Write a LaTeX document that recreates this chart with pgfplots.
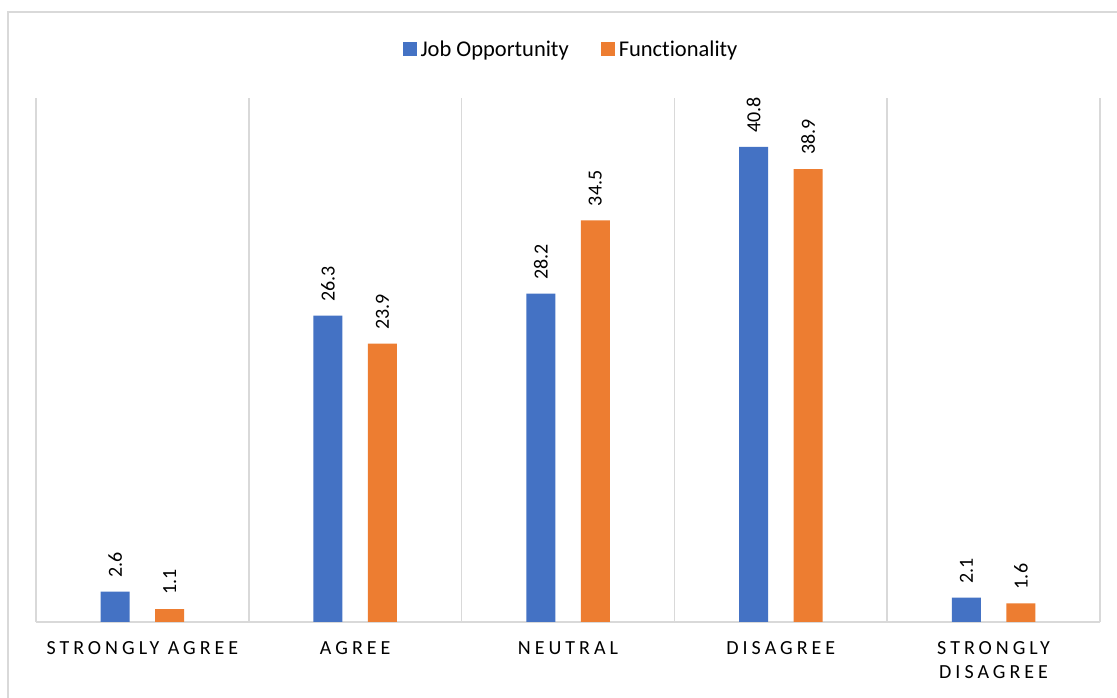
\documentclass[border=0pt]{standalone}
\usepackage{pgfplots}
\pgfplotsset{compat=1.18}
\usepackage{fontspec}
\setmainfont{Carlito}[Ligatures={NoCommon}]
\newfontfamily\catfont{Carlito}[LetterSpace=20, Ligatures={NoCommon}]

\definecolor{jobblue}{HTML}{4472C4}
\definecolor{funcorange}{HTML}{ED7D31}
\definecolor{gridgray}{HTML}{D9D9D9}

\begin{document}
\begin{tikzpicture}
  % page area and outer chart frame
  \useasboundingbox (0pt,0pt) rectangle (1117pt,698pt);
  \clip (0pt,0pt) rectangle (1117pt,698pt);
  \fill[white] (0pt,0pt) rectangle (1117pt,698pt);
  \draw[gridgray, line width=1.6pt] (8pt,686pt) rectangle (1140pt,-20pt);

  \begin{axis}[
    at={(36pt,76pt)}, anchor=south west,
    scale only axis,
    width=1064pt, height=524pt,
    xmin=-0.5, xmax=4.5,
    ymin=0, ymax=45,
    ybar=25.5pt, bar width=29pt,
    axis y line=none,
    axis x line*=bottom,
    axis line style={draw=gridgray, line width=1.6pt, -},
    xtick={0,1,2,3,4},
    xticklabels={STRONGLY AGREE, AGREE, NEUTRAL, DISAGREE, {STRONGLY\\DISAGREE}},
    major tick length=0pt,
    minor xtick={-0.5,0.5,1.5,2.5,3.5,4.5},
    minor tick length=0pt,
    minor x grid style={draw=gridgray, line width=1.6pt},
    xminorgrids=true,
    xticklabel style={font=\catfont\fontsize{20}{24}\selectfont, align=center,
      anchor=north, yshift=-16pt},
    ytick=\empty,
    clip=false,
    nodes near coords,
    nodes near coords style={font=\fontsize{20}{24}\selectfont, rotate=90,
      anchor=west, inner xsep=14pt, inner ysep=0pt,
      /pgf/number format/fixed, /pgf/number format/precision=1,
      /pgf/number format/fixed zerofill, /pgf/number format/assume math mode=true},
    legend columns=2,
    legend style={draw=none, fill=none, at={(axis description cs:0.5,1)},
      anchor=center, xshift=4pt, yshift=49pt,
      font=\fontsize{22.5}{26}\selectfont,
      nodes={inner xsep=4pt},
      /tikz/every even column/.append style={column sep=28pt}},
    legend image code/.code={\fill[#1, draw=none] (0pt,-7pt) rectangle (14pt,7pt);},
  ]
    \addplot[fill=jobblue, draw=none]
      coordinates {(0,2.6) (1,26.3) (2,28.2) (3,40.8) (4,2.1)};
    \addlegendentry{Job Opportunity}
    \addplot[fill=funcorange, draw=none]
      coordinates {(0,1.1) (1,23.9) (2,34.5) (3,38.9) (4,1.6)};
    \addlegendentry{Functionality}
  \end{axis}
\end{tikzpicture}
\end{document}
